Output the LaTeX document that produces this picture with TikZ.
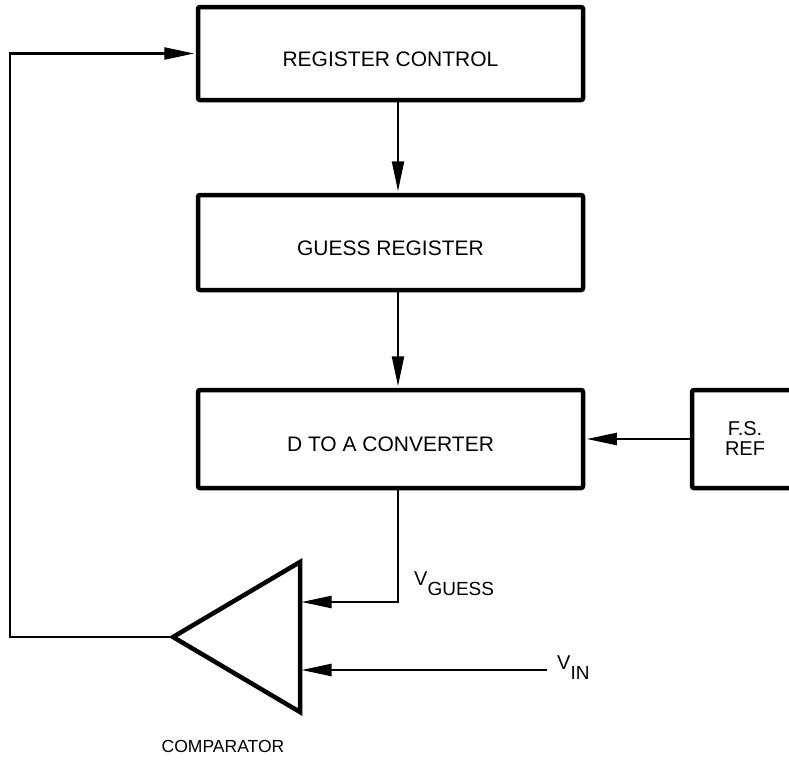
\documentclass[tikz,border=0pt]{standalone}
\usepackage{fontspec}
\setmainfont{Liberation Sans}
\usetikzlibrary{arrows.meta,positioning}
\tikzset{%
  ptr/.style={%
    -{Triangle[length=30pt,width=12pt]},
    line width=2.3pt,
    shorten >=1.5pt
  },
  box/.style={%
    draw,
    line width=4.5pt,
    rounded corners=2pt,
    inner sep=0pt
  },
  blk/.style={%
    box,
    minimum width=385pt,
    text height=25pt,
    text depth=0pt,
    font=\fontsize{21}{24}\selectfont
  },
  lbl/.style={%
    inner sep=0pt,
    font=\fontsize{20}{20}\selectfont
  }
}

\begin{document}
\begin{tikzpicture}[x=1pt,y=-1pt]
    \useasboundingbox (0,0) rectangle (789,763);

    % the three stages
    \node[blk, minimum height=93pt] (rc) at (390.5,53.5) {REGISTER CONTROL};
    \node[blk, minimum height=95pt] (gr) at (390.5,242.5) {GUESS REGISTER};
    \node[blk, minimum height=98pt] (da) at (390.5,439) {D TO A CONVERTER};
    \node[box, minimum width=106pt, minimum height=98pt, align=center,
          font=\fontsize{20}{20}\selectfont] (fs) at (745,439) {F.S.\\REF};

    % comparator
    \coordinate (cmp-tip) at (173,637);
    \coordinate (cmp-top) at (300,562);
    \coordinate (cmp-bot) at (300,712);
    \coordinate (cmp-inA) at (300,602);
    \coordinate (cmp-inB) at (300,670);
    \draw[line width=4.5pt] (cmp-top) -- (cmp-tip) -- (cmp-bot) -- cycle;
    \node[lbl, font=\fontsize{17.5}{17.5}\selectfont] (cmp-lbl) at (223,746) {COMPARATOR};

    \node[lbl, anchor=north west] (vguess) at (414,572)
      {V\raisebox{-10pt}{\fontsize{19}{19}\selectfont GUESS}};
    \node[lbl, anchor=north west] (vin-lbl) at (557,656)
      {V\raisebox{-10pt}{\fontsize{19}{19}\selectfont IN}};
    \coordinate (vin) at (547,670);

    % connections
    \coordinate (bus) at (398,0);
    \draw[ptr] (rc.south -| bus) -- (gr.north -| bus);
    \draw[ptr] (gr.south -| bus) -- (da.north -| bus);
    \draw[ptr] (fs.west) -- (da.east);
    \draw[ptr] (da.south -| bus) |- (cmp-inA);
    \draw[ptr] (vin) -- (cmp-inB);
    \draw[ptr] (cmp-tip) -- ++(-163,0) |- (rc.west);
\end{tikzpicture}
\end{document}
